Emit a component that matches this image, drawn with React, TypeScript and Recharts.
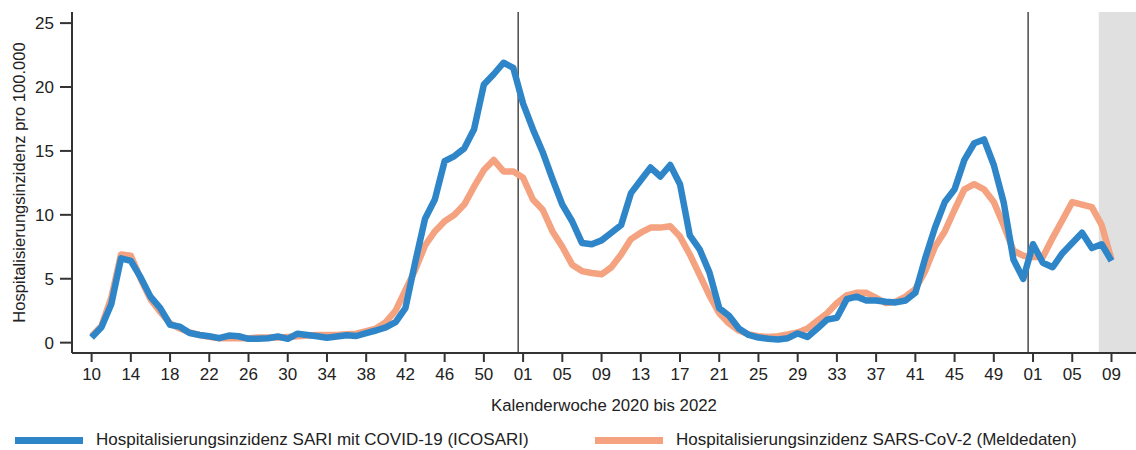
import {
  CartesianGrid,
  Legend,
  Line,
  LineChart,
  ReferenceArea,
  ReferenceLine,
  XAxis,
  YAxis,
} from "recharts";

// Kalenderwochen 2020 KW10 bis 2022 KW09
const weeks = [
  "10", "11", "12", "13", "14", "15", "16", "17", "18", "19",
  "20", "21", "22", "23", "24", "25", "26", "27", "28", "29",
  "30", "31", "32", "33", "34", "35", "36", "37", "38", "39",
  "40", "41", "42", "43", "44", "45", "46", "47", "48", "49",
  "50", "51", "52", "53",
  "01", "02", "03", "04", "05", "06", "07", "08", "09", "10",
  "11", "12", "13", "14", "15", "16", "17", "18", "19", "20",
  "21", "22", "23", "24", "25", "26", "27", "28", "29", "30",
  "31", "32", "33", "34", "35", "36", "37", "38", "39", "40",
  "41", "42", "43", "44", "45", "46", "47", "48", "49", "50",
  "51", "52",
  "01", "02", "03", "04", "05", "06", "07", "08", "09",
];

// Hospitalisierungsinzidenz SARI mit COVID-19 (ICOSARI)
const sari = [
  0.4, 1.2, 3.0, 6.6, 6.4, 5.1, 3.6, 2.7, 1.4, 1.25,
  0.75, 0.6, 0.5, 0.35, 0.55, 0.5, 0.3, 0.3, 0.35, 0.48,
  0.3, 0.7, 0.6, 0.5, 0.38, 0.48, 0.58, 0.52, 0.75, 0.95,
  1.2, 1.6, 2.7, 6.3, 9.7, 11.2, 14.2, 14.6, 15.2, 16.7,
  20.2, 21.0, 21.9, 21.5,
  18.7, 16.7, 14.9, 12.8, 10.8, 9.5, 7.8, 7.7, 8.0, 8.6,
  9.2, 11.7, 12.7, 13.7, 13.0, 13.9, 12.4, 8.4, 7.3, 5.5,
  2.7, 2.1, 1.1, 0.6, 0.4, 0.3, 0.25, 0.35, 0.72, 0.45,
  1.1, 1.8, 1.95, 3.4, 3.6, 3.3, 3.3, 3.2, 3.15, 3.3,
  3.9, 6.6, 9.0, 11.0, 12.0, 14.3, 15.6, 15.9, 13.9, 11.0,
  6.5, 5.0, 7.7, 6.25, 5.9, 7.0, 7.8, 8.6, 7.4, 7.7, 6.4,
];

// Hospitalisierungsinzidenz SARS-CoV-2 (Meldedaten)
const melde = [
  0.5, 1.3, 3.5, 6.9, 6.8, 5.0, 3.4, 2.4, 1.5, 1.1,
  0.8, 0.6, 0.45, 0.35, 0.35, 0.35, 0.35, 0.4, 0.4, 0.4,
  0.45, 0.5, 0.55, 0.6, 0.6, 0.6, 0.65, 0.7, 0.9, 1.1,
  1.6, 2.5, 4.1, 5.7, 7.6, 8.7, 9.5, 10.0, 10.8, 12.2,
  13.5, 14.3, 13.4, 13.4,
  12.9, 11.2, 10.4, 8.7, 7.5, 6.1, 5.6, 5.45, 5.35, 5.9,
  6.9, 8.1, 8.6, 9.0, 9.0, 9.1, 8.3, 6.9, 5.3, 3.7,
  2.3, 1.5, 0.95, 0.65, 0.5, 0.45, 0.5, 0.65, 0.8, 1.1,
  1.7, 2.3, 3.1, 3.7, 3.9, 3.9, 3.5, 3.1, 3.2, 3.6,
  4.2, 5.6, 7.5, 8.7, 10.4, 12.0, 12.4, 12.0, 11.0, 9.2,
  7.2, 6.8, 6.7, 6.7, 8.2, 9.6, 11.0, 10.8, 10.6, 9.2, 6.5,
];

const yTicks = [0, 5, 10, 15, 20, 25];
// Jahreswechsel (zwischen letzter KW und KW01) und der noch unvollständige Zeitraum
const yearBreaks = [43.5, 95.5];
const preliminaryFrom = 102.7;

const BLUE = "#2e86c9";
const ORANGE = "#f4a27f";
const AXIS = "#333333";
const FONT = '"Liberation Sans", Arial, sans-serif';

const data = weeks.map((week, idx) => ({ idx, week, sari: sari[idx], melde: melde[idx] }));
const xTicks = data.filter((_, i) => i % 4 === 0).map((d) => d.idx);

const legendItems = [
  { label: "Hospitalisierungsinzidenz SARI mit COVID-19 (ICOSARI)", color: BLUE, left: 15 },
  { label: "Hospitalisierungsinzidenz SARS-CoV-2 (Meldedaten)", color: ORANGE, left: 595 },
];

function ChartLegend() {
  return (
    <div style={{ position: "relative", width: 1136, height: 34, fontFamily: FONT }}>
      {legendItems.map((item) => (
        <div
          key={item.label}
          style={{
            position: "absolute",
            left: item.left,
            top: 14,
            height: 20,
            display: "flex",
            alignItems: "center",
            fontSize: 17,
            color: "#222",
            whiteSpace: "nowrap",
          }}
        >
          <span style={{ display: "inline-block", width: 68, height: 7, background: item.color, marginRight: 13 }} />
          {item.label}
        </div>
      ))}
    </div>
  );
}

function YLabel(props: any) {
  const vb = props.viewBox || { x: 0, y: 0, width: 72, height: 341 };
  const x = vb.x + 25;
  const y = vb.y + vb.height / 2;
  return (
    <text
      x={x}
      y={y}
      transform={`rotate(-90, ${x}, ${y})`}
      textAnchor="middle"
      fill="#222"
      fontSize={16.6}
      fontFamily={FONT}
    >
      Hospitalisierungsinzidenz pro 100.000
    </text>
  );
}

export default function App() {
  return (
    <div style={{ position: "absolute", left: 0, top: 0, width: 1136, height: 450, background: "#fff" }}>
      <LineChart width={1136} height={450} data={data} margin={{ top: 12, right: 0, bottom: 0, left: 0 }}>
        <CartesianGrid stroke="none" />
        <ReferenceArea
          x1={preliminaryFrom}
          x2={106.5}
          y1={-0.81}
          y2={25.87}
          fill="#e0e0e0"
          fillOpacity={1}
          stroke="none"
          ifOverflow="hidden"
        />
        {yearBreaks.map((x) => (
          <ReferenceLine key={x} x={x} stroke="#555" strokeWidth={1.6} />
        ))}
        <XAxis
          dataKey="idx"
          type="number"
          domain={[-2, 106.5]}
          allowDataOverflow
          ticks={xTicks}
          interval={0}
          tickFormatter={(i: number) => weeks[i]}
          height={63}
          tickSize={9}
          tickMargin={6}
          axisLine={{ stroke: AXIS, strokeWidth: 2 }}
          tickLine={{ stroke: AXIS, strokeWidth: 2 }}
          tick={{ fill: "#222", fontSize: 17, fontFamily: FONT }}
          label={{
            value: "Kalenderwoche 2020 bis 2022",
            position: "insideBottom",
            offset: 5,
            fill: "#222",
            fontSize: 16.8,
            fontFamily: FONT,
          }}
        />
        <YAxis
          type="number"
          domain={[-0.81, 25.87]}
          allowDataOverflow
          ticks={yTicks}
          interval={0}
          width={72}
          tickSize={12}
          tickMargin={6}
          axisLine={{ stroke: AXIS, strokeWidth: 2 }}
          tickLine={{ stroke: AXIS, strokeWidth: 2 }}
          tick={{ fill: "#222", fontSize: 17, fontFamily: FONT }}
          label={<YLabel />}
        />
        <Legend verticalAlign="bottom" height={34} content={() => <ChartLegend />} />
        <Line
          dataKey="melde"
          name="Hospitalisierungsinzidenz SARS-CoV-2 (Meldedaten)"
          stroke={ORANGE}
          strokeWidth={6.5}
          dot={false}
          activeDot={false}
          strokeLinejoin="round"
          isAnimationActive={false}
        />
        <Line
          dataKey="sari"
          name="Hospitalisierungsinzidenz SARI mit COVID-19 (ICOSARI)"
          stroke={BLUE}
          strokeWidth={6.5}
          dot={false}
          activeDot={false}
          strokeLinejoin="round"
          isAnimationActive={false}
        />
      </LineChart>
    </div>
  );
}
